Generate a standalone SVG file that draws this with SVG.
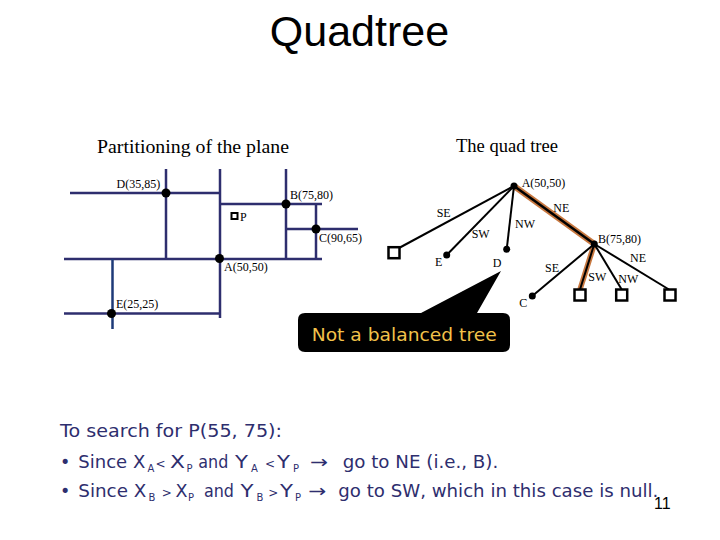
<svg xmlns="http://www.w3.org/2000/svg" width="720" height="540" viewBox="0 0 720 540">
<style>
.title{font-family:"Liberation Sans",Arial,sans-serif;font-size:43px;fill:#000}
.head{font-family:"Liberation Serif","Times New Roman",serif;font-size:19.5px;fill:#000}
.lbl{font-family:"Liberation Serif","Times New Roman",serif;font-size:12px;fill:#000}
.part{stroke:#2E2E6E;stroke-width:2.5;fill:none}
.edge{stroke:#000;stroke-width:2;fill:none}
.leaf{fill:#fff;stroke:#000;stroke-width:2.5}
.body{font-family:"DejaVu Sans",sans-serif;font-size:17.5px;fill:#2E2E6E}
.s{font-size:10px}
.op{font-size:12px}
</style>
<text class="title" x="359.5" y="46" text-anchor="middle">Quadtree</text>
<text class="head" x="97" y="153" textLength="192" lengthAdjust="spacingAndGlyphs">Partitioning of the plane</text>
<text class="head" x="456" y="152" textLength="102" lengthAdjust="spacingAndGlyphs">The quad tree</text>

<g id="partition">
<line class="part" x1="70" y1="193" x2="220" y2="193"/>
<line class="part" x1="64" y1="259" x2="322" y2="259"/>
<line class="part" x1="64" y1="313.5" x2="220" y2="313.5"/>
<line class="part" x1="220" y1="204" x2="322" y2="204"/>
<line class="part" x1="286" y1="229" x2="358" y2="229"/>
<line class="part" x1="166" y1="169" x2="166" y2="259"/>
<line class="part" x1="220" y1="169" x2="220" y2="318"/>
<line class="part" x1="286" y1="169" x2="286" y2="259"/>
<line class="part" x1="316" y1="204" x2="316" y2="259"/>
<line x1="112.5" y1="259" x2="112.5" y2="329" stroke="#1E3A78" stroke-width="2.5"/>
<g id="pD"><circle cx="166" cy="193" r="4.5"/><text class="lbl" x="116.5" y="188">D(35,85)</text></g>
<g id="pB"><circle cx="286" cy="204" r="4.5"/><text class="lbl" x="290" y="199">B(75,80)</text></g>
<g id="pC"><circle cx="316" cy="229" r="4.5"/><text class="lbl" x="319" y="242">C(90,65)</text></g>
<g id="pA"><circle cx="219.5" cy="258.5" r="4.5"/><text class="lbl" x="224" y="271">A(50,50)</text></g>
<g id="pE"><circle cx="111.5" cy="313.5" r="4.5"/><text class="lbl" x="116" y="307.5">E(25,25)</text></g>
<g id="pP"><rect x="231.5" y="213" width="6" height="6" fill="#fff" stroke="#000" stroke-width="2"/><text class="lbl" x="240" y="221" font-size="13">P</text></g>
</g>

<g id="connectors">
<line x1="514" y1="186" x2="594.3" y2="244" stroke="#C87840" stroke-width="6"/>
<line x1="594.3" y1="244" x2="580" y2="289.5" stroke="#C87840" stroke-width="5.5"/>
<line x1="514" y1="186" x2="594.3" y2="244" stroke="#000" stroke-width="2.5"/>
<line class="edge" x1="594.3" y1="244" x2="580" y2="289.5"/>
<line class="edge" x1="514" y1="186" x2="399" y2="248"/>
<line class="edge" x1="514" y1="186" x2="446.7" y2="255"/>
<line class="edge" x1="514" y1="186" x2="506.7" y2="249.3"/>
<line class="edge" x1="594.3" y1="244" x2="532.3" y2="296"/>
<line class="edge" x1="594.3" y1="244" x2="621.7" y2="289.5"/>
<line class="edge" x1="594.3" y1="244" x2="669" y2="289.5"/>
<text class="lbl" x="436.7" y="216.7">SE</text>
<text class="lbl" x="471.7" y="238">SW</text>
<text class="lbl" x="515" y="228">NW</text>
<text class="lbl" x="553.3" y="211.7">NE</text>
<text class="lbl" x="545" y="271.7">SE</text>
<text class="lbl" x="588.3" y="280.7">SW</text>
<text class="lbl" x="618.3" y="282.7">NW</text>
<text class="lbl" x="630" y="261.7">NE</text>
</g>

<g id="tA"><circle cx="514" cy="186" r="3.5"/><text class="lbl" x="521.7" y="187">A(50,50)</text></g>
<g id="tB"><circle cx="594.3" cy="244" r="3.5"/><text class="lbl" x="598" y="243.3">B(75,80)</text></g>
<g id="tE"><circle cx="446.7" cy="255" r="3.5"/><text class="lbl" x="435" y="266">E</text></g>
<g id="tD"><circle cx="506.7" cy="249.3" r="3.5"/><text class="lbl" x="492.7" y="267.3">D</text></g>
<g id="tC"><circle cx="532.3" cy="296" r="3.5"/><text class="lbl" x="519.3" y="306.7">C</text></g>
<g id="tL1"><rect class="leaf" x="388.5" y="247.2" width="11" height="11"/></g>
<g id="tL2"><rect class="leaf" x="574.5" y="289.5" width="11" height="11"/></g>
<g id="tL3"><rect class="leaf" x="616.2" y="289.5" width="11" height="11"/></g>
<g id="tL4"><rect class="leaf" x="664.5" y="289.5" width="11" height="11"/></g>

<g id="callout">
<path d="M305,313 H421 L501,271 L477,313 H503 Q510,313 510,320 V345 Q510,352 503,352 H305 Q298,352 298,345 V320 Q298,313 305,313 Z" fill="#000"/>
<text x="311.7" y="340.5" font-family="'DejaVu Sans',sans-serif" font-size="17" fill="#F2C24A" textLength="185" lengthAdjust="spacingAndGlyphs">Not a balanced tree</text>
</g>

<g id="explanation">
<text class="body" x="60" y="437" textLength="222" lengthAdjust="spacingAndGlyphs">To search for P(55, 75):</text>
<text class="body" y="468"><tspan x="60">•</tspan><tspan x="78.3" textLength="67" lengthAdjust="spacingAndGlyphs">Since X</tspan><tspan class="s" x="147.5" dy="4">A</tspan><tspan class="op" x="155.5" dy="-4">&lt;</tspan><tspan x="170" textLength="15" lengthAdjust="spacingAndGlyphs">X</tspan><tspan class="s" x="186.5" dy="4">P</tspan><tspan x="198.3" dy="-4" textLength="30" lengthAdjust="spacingAndGlyphs">and</tspan><tspan x="235" textLength="13" lengthAdjust="spacingAndGlyphs">Y</tspan><tspan class="s" x="251" dy="4">A</tspan><tspan class="op" x="265" dy="-4">&lt;</tspan><tspan x="277" textLength="13" lengthAdjust="spacingAndGlyphs">Y</tspan><tspan class="s" x="293" dy="4">P</tspan><tspan x="310" dy="-4" textLength="18" lengthAdjust="spacingAndGlyphs">→</tspan><tspan x="342.7" textLength="155.6" lengthAdjust="spacingAndGlyphs">go to NE (i.e., B).</tspan></text>
<text class="body" y="497"><tspan x="60">•</tspan><tspan x="78.3" textLength="68" lengthAdjust="spacingAndGlyphs">Since X</tspan><tspan class="s" x="148.5" dy="4">B</tspan><tspan class="op" x="161.7" dy="-4">&gt;</tspan><tspan x="175.5" textLength="12" lengthAdjust="spacingAndGlyphs">X</tspan><tspan class="s" x="188" dy="4">P</tspan><tspan x="204" dy="-4" textLength="30" lengthAdjust="spacingAndGlyphs">and</tspan><tspan x="240.5" textLength="13" lengthAdjust="spacingAndGlyphs">Y</tspan><tspan class="s" x="256.5" dy="4">B</tspan><tspan class="op" x="268.3" dy="-4">&gt;</tspan><tspan x="280" textLength="13" lengthAdjust="spacingAndGlyphs">Y</tspan><tspan class="s" x="295" dy="4">P</tspan><tspan x="308.3" dy="-4" textLength="18" lengthAdjust="spacingAndGlyphs">→</tspan><tspan x="338.3" textLength="320" lengthAdjust="spacingAndGlyphs">go to SW, which in this case is null.</tspan></text>
<text x="654" y="509" font-family="'Liberation Sans',Arial,sans-serif" font-size="16" fill="#000">11</text>
</g>
</svg>
